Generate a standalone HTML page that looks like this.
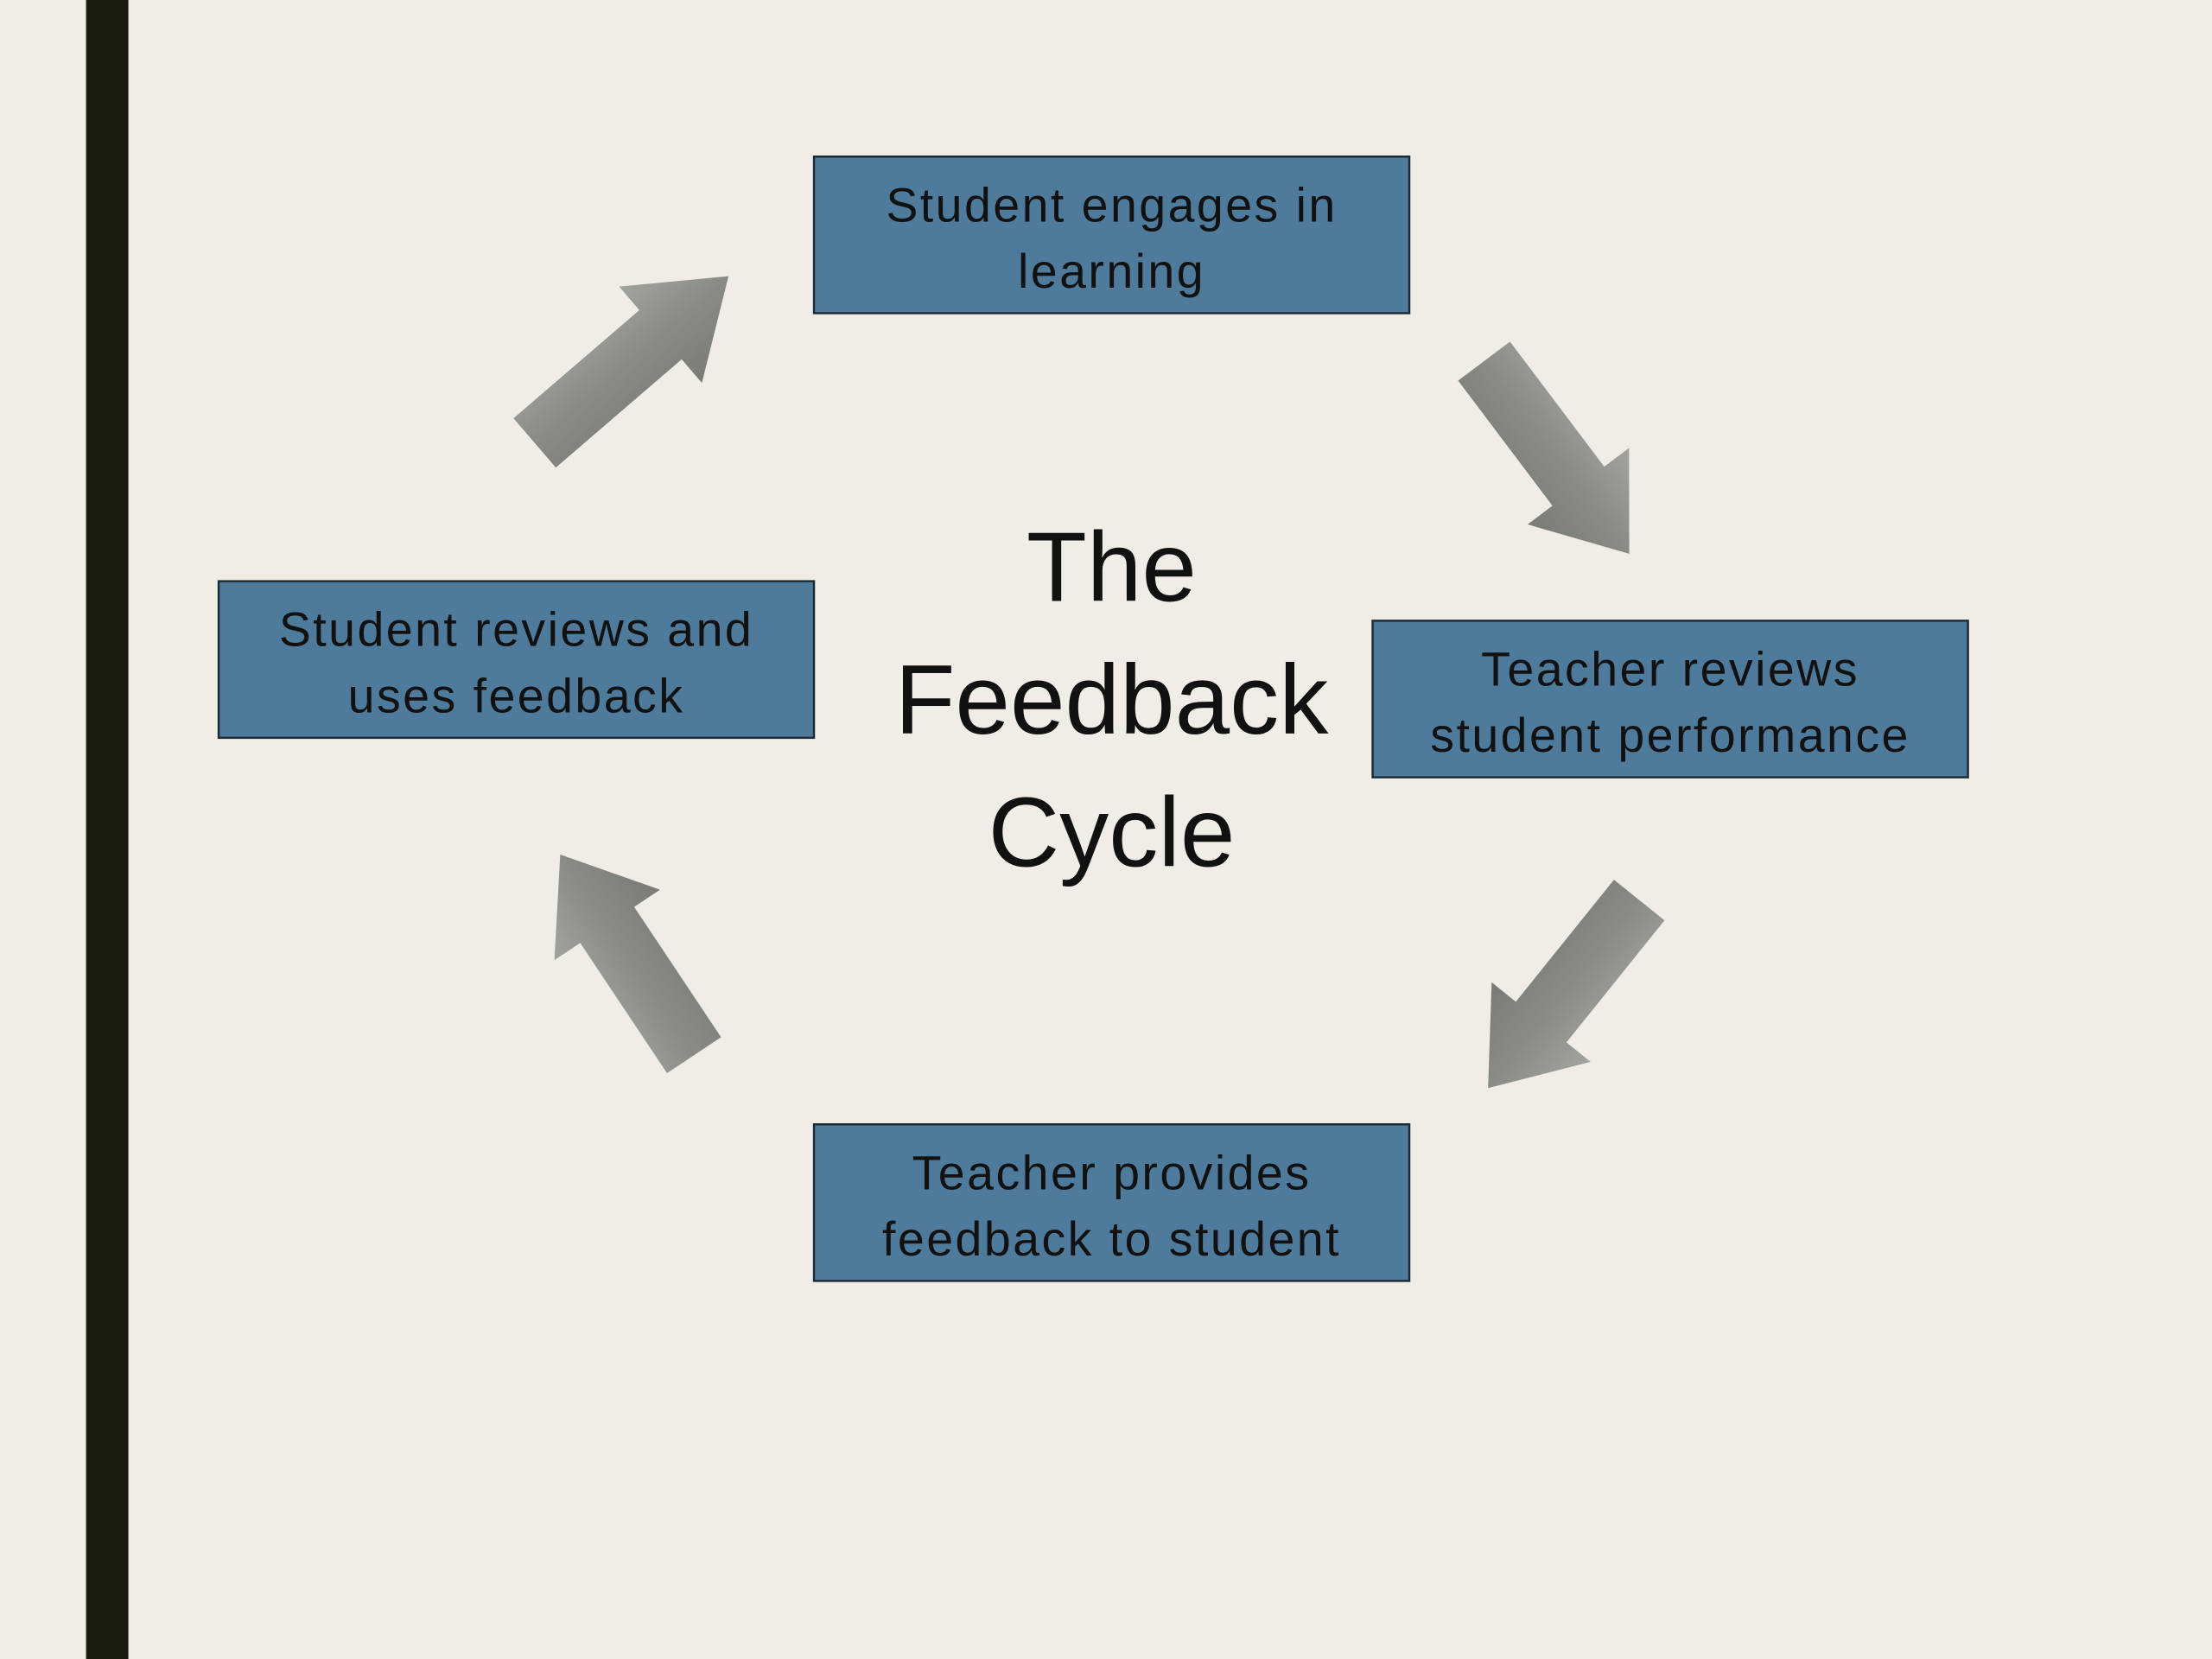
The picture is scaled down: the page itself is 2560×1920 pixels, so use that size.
<!DOCTYPE html>
<html><head><meta charset="utf-8"><style>
html,body{margin:0;padding:0;background:#efede5;}
svg{display:block;}
</style></head><body>
<svg width="2560" height="1920" viewBox="0 0 1568 1176" xmlns="http://www.w3.org/2000/svg">
<defs>
<linearGradient id="g2" x1="0" y1="0" x2="0" y2="1">
<stop offset="0" stop-color="#a3a49e"/><stop offset="0.5" stop-color="#8a8b85"/><stop offset="1" stop-color="#7a7b75"/>
</linearGradient>
<polygon id="arr" points="0,-23 111,-23 111,-45 171,0 111,45 111,23 0,23" fill="url(#g2)"/>
</defs>
<rect x="0" y="0" width="1568" height="1176" fill="#efede5"/>
<rect x="61" y="0" width="30" height="1176" fill="#1b1b10"/>

<g stroke="#1e2a33" stroke-width="1.5" fill="#4e7b9b">
<rect x="577" y="111" width="422" height="111"/>
<rect x="973" y="440" width="422" height="111"/>
<rect x="577" y="797" width="422" height="111"/>
<rect x="155" y="412" width="422" height="111"/>
</g>

<g font-family="'Liberation Sans', sans-serif" font-size="34" fill="#111" text-anchor="middle" letter-spacing="1.5">
<text x="788" y="157">Student engages in</text>
<text x="788" y="204">learning</text>
<text x="1184" y="486">Teacher reviews</text>
<text x="1184" y="533">student performance</text>
<text x="788" y="843">Teacher provides</text>
<text x="788" y="890">feedback to student</text>
<text x="366" y="458">Student reviews and</text>
<text x="366" y="505">uses feedback</text>
</g>
<g font-family="'Liberation Sans', sans-serif" font-size="70" fill="#111" text-anchor="middle">
<text x="788" y="426">The</text>
<text x="788" y="520">Feedback</text>
<text x="788" y="614">Cycle</text>
</g>

<g transform="translate(379,314) rotate(-40.7) scale(1.06,1)"><use href="#arr"/></g>
<g transform="translate(1052,256) rotate(53)"><use href="#arr"/></g>
<g transform="translate(1162,638) rotate(128.8)"><use href="#arr"/></g>
<g transform="translate(492,748) rotate(236.3)"><use href="#arr"/></g>
</svg>
</body></html>
